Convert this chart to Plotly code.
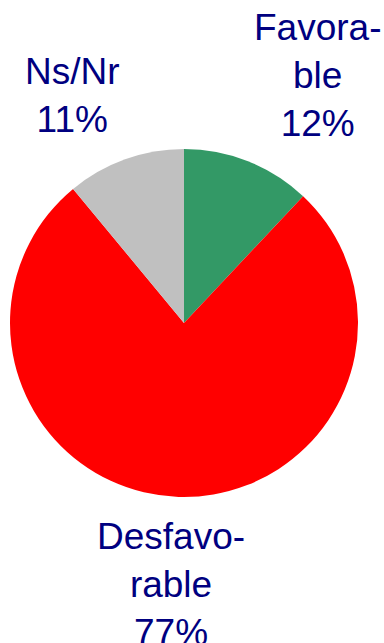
import plotly.graph_objects as go

# Survey results
categories = ["Favorable", "Desfavorable", "Ns/Nr"]
values = [12, 77, 11]
label_texts = ["Favora-<br>ble", "Desfavo-<br>rable", "Ns/Nr"]
colors = ["#339966", "#FF0000", "#C0C0C0"]

W, H = 384, 643

def px_x(x):
    return x / W

def px_y(y):
    return (H - y) / H

fig = go.Figure(
    go.Pie(
        labels=categories,
        values=values,
        sort=False,
        direction="clockwise",
        rotation=0,
        marker=dict(colors=colors, line=dict(width=0)),
        textinfo="none",
        hoverinfo="label+percent",
        showlegend=False,
        domain=dict(x=[px_x(10), px_x(358)], y=[px_y(497), px_y(149)]),
    )
)

# label block centres (pixels)
label_pos = [(317, 76), (171, 584), (72, 96)]
total = sum(values)
for txt, v, (lx, ly) in zip(label_texts, values, label_pos):
    fig.add_annotation(
        text=f"{txt}<br>{round(100 * v / total)}%",
        x=px_x(lx), y=px_y(ly), xref="paper", yref="paper",
        xanchor="center", yanchor="middle", align="center",
        showarrow=False,
        font=dict(family="Liberation Sans, Arial, sans-serif", size=37, color="#000080"),
    )

fig.update_layout(
    width=W, height=H,
    margin=dict(l=0, r=0, t=0, b=0),
    paper_bgcolor="white",
    plot_bgcolor="white",
)

fig.write_html("out.html")
